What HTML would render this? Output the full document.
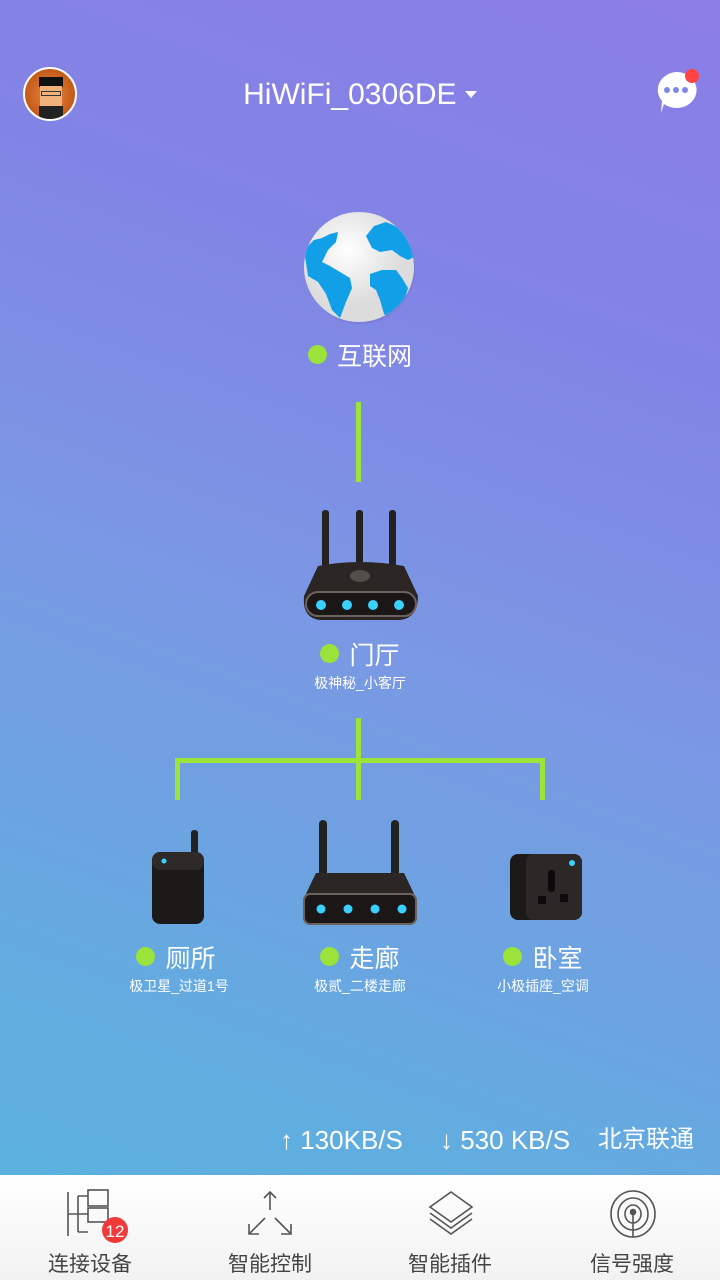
<!DOCTYPE html>
<html><head><meta charset="utf-8"><style>
*{margin:0;padding:0;box-sizing:border-box}
body{width:720px;height:1280px;overflow:hidden;position:relative;font-family:"Liberation Sans","Noto Sans CJK SC",sans-serif;background:linear-gradient(200deg,#8b7ee6 0%,#8284e5 25%,#7a98e3 50%,#62ace0 80%,#58b4df 100%);color:#fff}
.a{position:absolute}
.lbl{position:absolute;width:240px;text-align:center;font-size:25px;line-height:30px}
.lbl i{display:inline-block;width:19px;height:19px;border-radius:50%;background:#9be33a;margin-right:10px;vertical-align:1px}
.sub{position:absolute;width:240px;text-align:center;font-size:14px}
.g{position:absolute;background:#9ce43a}
.tab{position:absolute;top:1248px;width:180px;text-align:center;font-size:21px;color:#444}
</style></head><body>
<div class="a" style="left:23px;top:67px;width:54px;height:54px;border-radius:50%;border:2px solid #fff;background:radial-gradient(circle,#e88a3a,#b4450c);overflow:hidden">
<div class="a" style="left:14px;top:8px;width:24px;height:10px;background:#111"></div>
<div class="a" style="left:15px;top:17px;width:22px;height:20px;background:#f0b27a"></div>
<div class="a" style="left:16px;top:22px;width:20px;height:5px;border:1px solid #333"></div>
<div class="a" style="left:14px;top:37px;width:24px;height:14px;background:#222"></div>
</div>
<div class="a" style="left:0;top:76px;width:720px;text-align:center;font-size:30px;line-height:38px">HiWiFi_0306DE <span style="display:inline-block;width:0;height:0;border-left:6px solid transparent;border-right:6px solid transparent;border-top:7px solid #fff;vertical-align:6px"></span></div>
<svg class="a" style="left:652px;top:66px" width="50" height="50"><path d="M24 6a20 18 0 1 1-12 32l-3 9 1-12a20 18 0 0 1 14-29z" fill="#fff"/><circle cx="15" cy="24" r="3" fill="#7f86e4"/><circle cx="24" cy="24" r="3" fill="#7f86e4"/><circle cx="33" cy="24" r="3" fill="#7f86e4"/><circle cx="40" cy="10" r="7" fill="#f44"/></svg>
<svg class="a" style="left:302px;top:210px" width="116" height="116"><defs><radialGradient id="gl" cx="40%" cy="35%"><stop offset="0" stop-color="#fff"/><stop offset="1" stop-color="#dcdcdc"/></radialGradient><clipPath id="cp"><circle cx="57" cy="57" r="55"/></clipPath></defs><circle cx="58" cy="59" r="55" fill="#6f6fc8" opacity=".35"/><circle cx="57" cy="57" r="55" fill="url(#gl)"/>
<g clip-path="url(#cp)" fill="#11a0e8">
<path d="M2 40 L12 30 L20 28 L28 24 L36 22 L34 32 L26 40 L20 52 L28 56 L38 62 L48 68 L50 78 L44 92 L38 108 L30 100 L24 84 L16 72 L6 66 Z"/>
<path d="M68 64 L80 60 L94 60 L100 68 L106 78 L102 92 L94 100 L88 108 L82 104 L78 90 L74 80 L68 76 Z"/>
<path d="M64 26 L72 16 L84 12 L98 18 L110 30 L114 46 L106 50 L98 46 L90 40 L78 42 L70 38 Z"/>
</g></svg>
<div class="lbl" style="left:240px;top:342px"><i></i>互联网</div>
<div class="g" style="left:356px;top:402px;width:5px;height:80px"></div>
<svg class="a" style="left:300px;top:508px" width="122" height="116">
<rect x="22" y="2" width="7" height="64" rx="3" fill="#222"/><rect x="56" y="2" width="7" height="64" rx="3" fill="#222"/><rect x="89" y="2" width="7" height="64" rx="3" fill="#222"/>
<path d="M18 58 Q60 50 104 58 L118 88 Q118 110 100 112 L20 112 Q2 110 4 88 Z" fill="#2b2624"/>
<ellipse cx="60" cy="68" rx="10" ry="6" fill="#554d4a"/>
<rect x="6" y="84" width="110" height="24" rx="12" fill="#1a1716" stroke="#6b625e" stroke-width="2"/>
<circle cx="21" cy="97" r="5" fill="#3ad0ff"/><circle cx="47" cy="97" r="5" fill="#3ad0ff"/><circle cx="73" cy="97" r="5" fill="#3ad0ff"/><circle cx="99" cy="97" r="5" fill="#3ad0ff"/></svg>
<div class="lbl" style="left:240px;top:641px"><i></i>门厅</div>
<div class="sub" style="left:240px;top:673px">极神秘_小客厅</div>
<div class="g" style="left:356px;top:718px;width:5px;height:82px"></div>
<div class="g" style="left:175px;top:758px;width:370px;height:5px"></div>
<div class="g" style="left:175px;top:758px;width:5px;height:42px"></div>
<div class="g" style="left:540px;top:758px;width:5px;height:42px"></div>
<svg class="a" style="left:150px;top:828px" width="58" height="98">
<rect x="41" y="2" width="7" height="40" rx="3" fill="#222"/>
<rect x="2" y="24" width="52" height="72" rx="8" fill="#1c1a19"/><rect x="2" y="24" width="52" height="18" rx="8" fill="#2e2a28"/>
<circle cx="14" cy="33" r="2.5" fill="#3ad0ff"/></svg>
<svg class="a" style="left:302px;top:818px" width="116" height="110">
<rect x="17" y="2" width="8" height="60" rx="4" fill="#222"/><rect x="89" y="2" width="8" height="60" rx="4" fill="#222"/>
<path d="M14 55 L102 55 L114 80 L2 80 Z" fill="#2b2624"/>
<rect x="2" y="76" width="112" height="30" rx="6" fill="#1a1716" stroke="#6b625e" stroke-width="2"/>
<circle cx="19" cy="91" r="4.5" fill="#3ad0ff"/><circle cx="46" cy="91" r="4.5" fill="#3ad0ff"/><circle cx="73" cy="91" r="4.5" fill="#3ad0ff"/><circle cx="100" cy="91" r="4.5" fill="#3ad0ff"/></svg>
<svg class="a" style="left:508px;top:852px" width="76" height="70">
<rect x="2" y="2" width="72" height="66" rx="8" fill="#1c1a19"/><rect x="18" y="2" width="56" height="66" rx="8" fill="#2c2827"/>
<circle cx="64" cy="11" r="3" fill="#3ad0ff"/>
<rect x="40" y="18" width="7" height="22" rx="3" fill="#0c0b0b"/><rect x="30" y="44" width="8" height="8" fill="#0c0b0b"/><rect x="52" y="42" width="8" height="8" fill="#0c0b0b"/></svg>
<div class="lbl" style="left:56px;top:944px"><i></i>厕所</div>
<div class="sub" style="left:59px;top:976px">极卫星_过道1号</div>
<div class="lbl" style="left:240px;top:944px"><i></i>走廊</div>
<div class="sub" style="left:240px;top:976px">极贰_二楼走廊</div>
<div class="lbl" style="left:423px;top:944px"><i></i>卧室</div>
<div class="sub" style="left:423px;top:976px">小极插座_空调</div>
<div class="a" style="left:280px;top:1125px;font-size:26px;line-height:30px;white-space:nowrap">↑ 130KB/S</div>
<div class="a" style="left:440px;top:1125px;font-size:26px;line-height:30px;white-space:nowrap">↓ 530 KB/S</div>
<div class="a" style="left:598px;top:1125px;font-size:24px;line-height:30px;white-space:nowrap">北京联通</div>
<div class="a" style="left:0;top:1175px;width:720px;height:105px;background:linear-gradient(#fff,#f2f2f2)"></div>
<svg class="a" style="left:60px;top:1188px" width="75" height="60" fill="none" stroke="#555" stroke-width="1.6">
<path d="M8 4V48M8 26H18M18 8V44M18 8H28M18 26H28M18 44H28"/><rect x="28" y="2" width="20" height="16"/><rect x="28" y="20" width="20" height="14"/><circle cx="55" cy="42" r="13" fill="#f03a3a" stroke="none"/><text x="55" y="49" font-size="17" fill="#fff" stroke="none" text-anchor="middle" font-family="Liberation Sans">12</text></svg>
<svg class="a" style="left:245px;top:1190px" width="50" height="50" fill="none" stroke="#555" stroke-width="1.6">
<path d="M25 2V20M19 8L25 2L31 8M20 28L4 44M4 34V44H14M30 28L46 44M46 34V44H36"/></svg>
<svg class="a" style="left:426px;top:1190px" width="50" height="50" fill="none" stroke="#555" stroke-width="1.6">
<path d="M25 2L46 17L25 32L4 17Z"/><path d="M4 23L25 38L46 23M4 29L25 44L46 29"/></svg>
<svg class="a" style="left:608px;top:1190px" width="50" height="52" fill="none" stroke="#555" stroke-width="1.6">
<ellipse cx="25" cy="24" rx="22" ry="23"/><ellipse cx="25" cy="24" rx="15" ry="16"/><ellipse cx="25" cy="24" rx="8" ry="9"/><circle cx="25" cy="22" r="2.5" fill="#555"/><path d="M25 24V47"/></svg>
<div class="tab" style="left:0">连接设备</div>
<div class="tab" style="left:180px">智能控制</div>
<div class="tab" style="left:360px">智能插件</div>
<div class="tab" style="left:542px">信号强度</div>
</body></html>
